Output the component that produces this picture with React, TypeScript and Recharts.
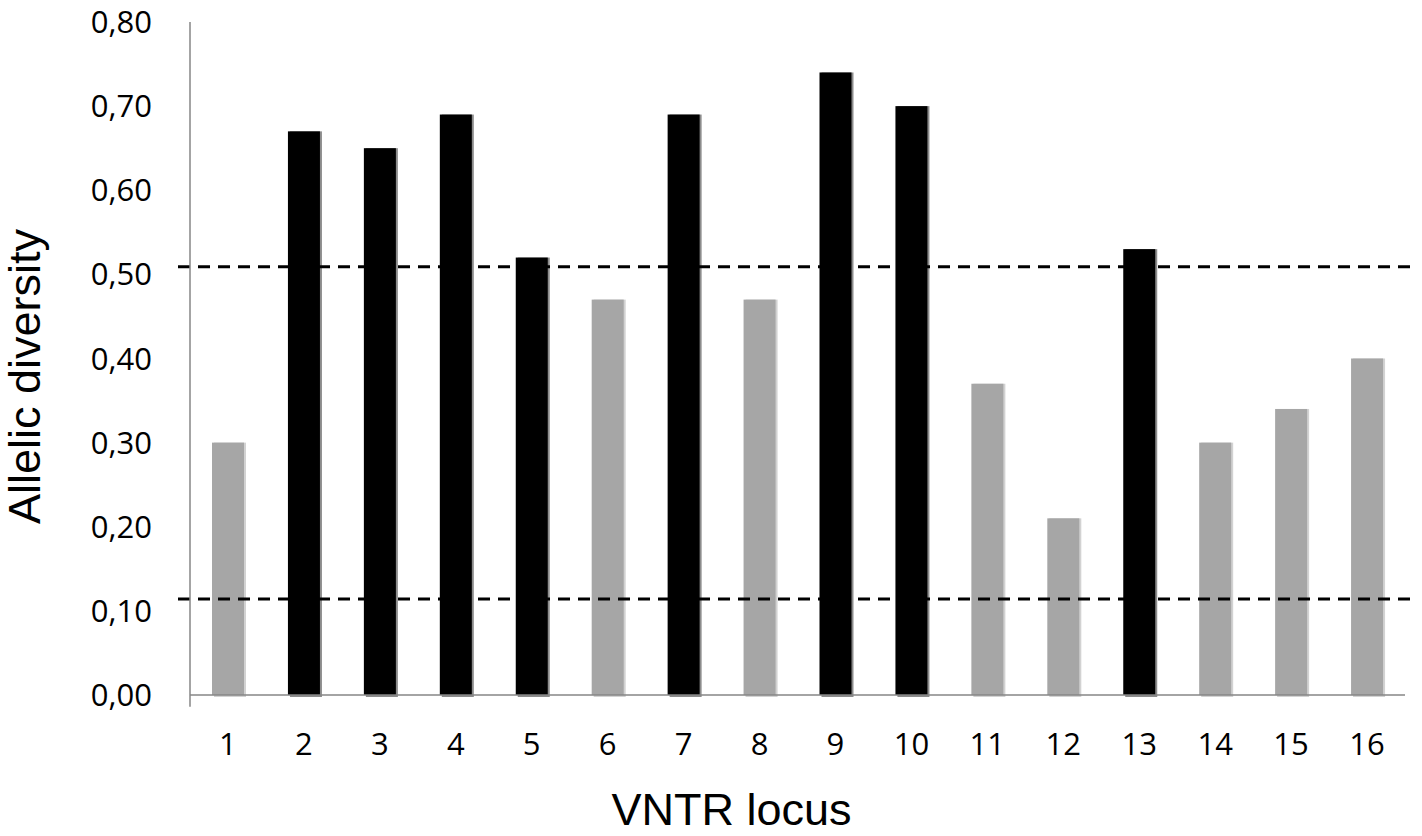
import { Bar, BarChart, Cell, ReferenceLine, XAxis, YAxis } from "recharts";

const loci = ["1", "2", "3", "4", "5", "6", "7", "8", "9", "10", "11", "12", "13", "14", "15", "16"];
const diversity = [0.3, 0.67, 0.65, 0.69, 0.52, 0.47, 0.69, 0.47, 0.74, 0.7, 0.37, 0.21, 0.53, 0.3, 0.34, 0.4];
const yTicks = [0, 0.1, 0.2, 0.3, 0.4, 0.5, 0.6, 0.7, 0.8];
const highCut = 0.509;
const lowCut = 0.114;

const data = loci.map((locus, i) => ({ locus, value: diversity[i] }));

const BLACK = "#000000";
const GREY = "#a6a6a6";
const AXIS = "#868686";
const tickFont = "'Open Sans', sans-serif";
const titleFont = "'Liberation Sans', Arial, sans-serif";

function ShadowBar(props: any) {
  const { x, y, width, height, payload } = props;
  const dark = payload.value > highCut;
  return (
    <g>
      <rect x={x + 2} y={y} width={width} height={height + 2} fill={dark ? "#8c8c8c" : "#d2d2d2"} />
      <rect x={x} y={y} width={width} height={height} fill={dark ? BLACK : GREY} />
    </g>
  );
}

function DashLine(props: any) {
  const { x1, x2, y1 } = props;
  return (
    <line
      x1={x1 - 12}
      x2={x2 + 13}
      y1={y1}
      y2={y1}
      stroke="#000"
      strokeWidth={3}
      strokeDasharray="12 8"
    />
  );
}

// axis titles sit right at the picture's edges, as in the original figure
function YTitle({ viewBox }: any) {
  const cx = viewBox.x + 40;
  const cy = viewBox.y + viewBox.height / 2 + 18;
  return (
    <text
      x={cx}
      y={cy}
      transform={`rotate(-90 ${cx} ${cy})`}
      textAnchor="middle"
      fontFamily={titleFont}
      fontSize={45}
      fill="#000"
    >
      Allelic diversity
    </text>
  );
}

function XTitle({ viewBox }: any) {
  return (
    <text
      x={viewBox.x + viewBox.width / 2 - 66}
      y={viewBox.y + 130}
      textAnchor="middle"
      fontFamily={titleFont}
      fontSize={45}
      fill="#000"
    >
      VNTR locus
    </text>
  );
}

export default function App() {
  return (
    <div style={{ position: "absolute", left: 0, top: 0, background: "#fff" }}>
      <BarChart width={1422} height={836} data={data} margin={{ top: 22, right: 17, left: 0, bottom: 0 }}>
        <XAxis
          dataKey="locus"
          height={141}
          axisLine={{ stroke: AXIS, strokeWidth: 1.5 }}
          tickLine={false}
          tickSize={0}
          tickMargin={38}
          tick={{ fill: "#000", fontSize: 31, fontFamily: tickFont }}
          interval={0}
          label={<XTitle />}
        />
        <YAxis
          width={190}
          domain={[0, 0.8]}
          ticks={yTicks}
          axisLine={{ stroke: AXIS, strokeWidth: 1.5 }}
          tickLine={false}
          tickSize={0}
          tickMargin={38}
          tick={{ fill: "#000", fontSize: 31, fontFamily: tickFont }}
          tickFormatter={(v: number) => v.toFixed(2).replace(".", ",")}
          label={<YTitle />}
        />
        <ReferenceLine
          segment={[{ x: "1", y: 0 }, { x: "1", y: -0.014 }]}
          position="start"
          ifOverflow="visible"
          stroke={AXIS}
          strokeWidth={1.5}
        />
        <ReferenceLine y={highCut} shape={<DashLine />} ifOverflow="visible" />
        <ReferenceLine y={lowCut} shape={<DashLine />} ifOverflow="visible" />
        <Bar dataKey="value" barSize={32} shape={<ShadowBar />} isAnimationActive={false}>
          {data.map((d) => (
            <Cell key={d.locus} fill={d.value > highCut ? BLACK : GREY} />
          ))}
        </Bar>
      </BarChart>
    </div>
  );
}
